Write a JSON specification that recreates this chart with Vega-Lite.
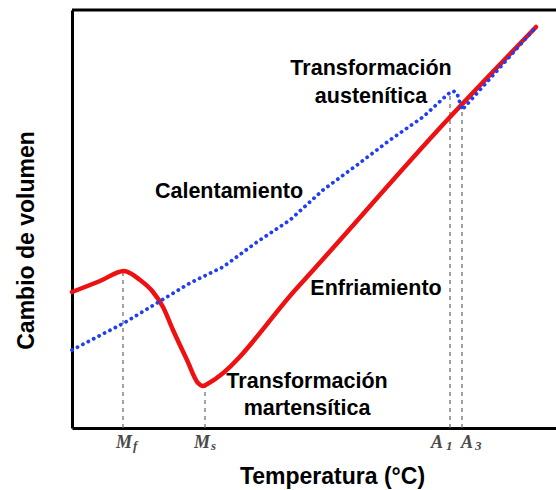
{
  "$schema": "https://vega.github.io/schema/vega-lite/v6.json",
  "width": 484,
  "height": 418,
  "autosize": {"type": "none"},
  "padding": {"left": 72, "top": 10, "right": 0, "bottom": 62},
  "background": "white",
  "config": {
    "view": {"stroke": null},
    "axis": {
      "domainColor": "black",
      "domainWidth": 3,
      "ticks": false,
      "labels": false,
      "grid": false,
      "titleFont": "Liberation Sans",
      "titleFontWeight": "bold",
      "titleFontSize": 23,
      "titleColor": "black"
    },
    "axisX": {"titleX": 260, "titleY": 55, "titleAlign": "center", "titleBaseline": "alphabetic"},
    "axisY": {"titleX": -39, "titleY": 230, "titleAngle": -90, "titleAlign": "center", "titleBaseline": "alphabetic"}
  },
  "datasets": {
    "curves": [
      {"serie": "Enfriamiento", "t": 0, "v": 136},
      {"serie": "Enfriamiento", "t": 28, "v": 147},
      {"serie": "Enfriamiento", "t": 52, "v": 157},
      {"serie": "Enfriamiento", "t": 68, "v": 148},
      {"serie": "Enfriamiento", "t": 81, "v": 136},
      {"serie": "Enfriamiento", "t": 91, "v": 121},
      {"serie": "Enfriamiento", "t": 101, "v": 98},
      {"serie": "Enfriamiento", "t": 115, "v": 68},
      {"serie": "Enfriamiento", "t": 126, "v": 45},
      {"serie": "Enfriamiento", "t": 131, "v": 42},
      {"serie": "Enfriamiento", "t": 137, "v": 45},
      {"serie": "Enfriamiento", "t": 225, "v": 140},
      {"serie": "Enfriamiento", "t": 378, "v": 311},
      {"serie": "Enfriamiento", "t": 464, "v": 401},
      {"serie": "Calentamiento", "t": 0, "v": 78},
      {"serie": "Calentamiento", "t": 52, "v": 105},
      {"serie": "Calentamiento", "t": 118, "v": 145},
      {"serie": "Calentamiento", "t": 151, "v": 161},
      {"serie": "Calentamiento", "t": 185, "v": 186},
      {"serie": "Calentamiento", "t": 218, "v": 208},
      {"serie": "Calentamiento", "t": 251, "v": 238},
      {"serie": "Calentamiento", "t": 285, "v": 263},
      {"serie": "Calentamiento", "t": 318, "v": 288},
      {"serie": "Calentamiento", "t": 351, "v": 311},
      {"serie": "Calentamiento", "t": 376, "v": 334},
      {"serie": "Calentamiento", "t": 381, "v": 337},
      {"serie": "Calentamiento", "t": 385, "v": 335},
      {"serie": "Calentamiento", "t": 390, "v": 318},
      {"serie": "Calentamiento", "t": 464, "v": 401}
    ],
    "dashes": [
      {"punto": "Mf", "t": 51, "v0": 0, "v1": 157},
      {"punto": "Ms", "t": 133, "v0": 0, "v1": 42},
      {"punto": "A1", "t": 378, "v0": 0, "v1": 336},
      {"punto": "A3", "t": 390, "v0": 0, "v1": 318}
    ],
    "letters": [
      {"txt": "M", "t": 44, "v": -20},
      {"txt": "M", "t": 122, "v": -20},
      {"txt": "A", "t": 359, "v": -20},
      {"txt": "A", "t": 389, "v": -20}
    ],
    "subs": [
      {"txt": "f", "t": 61, "v": -22},
      {"txt": "s", "t": 139, "v": -22},
      {"txt": "1", "t": 374, "v": -22},
      {"txt": "3", "t": 403, "v": -22}
    ],
    "notes": [
      {"txt": "Transformación", "t": 299, "v": 353},
      {"txt": "austenítica", "t": 299, "v": 325},
      {"txt": "Calentamiento", "t": 157, "v": 230},
      {"txt": "Enfriamiento", "t": 304, "v": 133},
      {"txt": "Transformación", "t": 235, "v": 40},
      {"txt": "martensítica", "t": 235, "v": 13}
    ],
    "frame": [{"v": 418}]
  },
  "layer": [
    {
      "data": {"name": "frame"},
      "mark": {"type": "rule", "color": "black", "strokeWidth": 3},
      "encoding": {
        "y": {"field": "v", "type": "quantitative", "title": "Cambio de volumen", "scale": {"domain": [0, 418], "nice": false, "zero": false}}
      }
    },
    {
      "data": {"name": "dashes"},
      "mark": {"type": "rule", "color": "#666666", "strokeWidth": 1.2, "strokeDash": [4, 4]},
      "encoding": {
        "x": {"field": "t", "type": "quantitative", "title": "Temperatura (°C)", "scale": {"domain": [0, 484], "nice": false, "zero": false}},
        "y": {"field": "v0", "type": "quantitative", "title": "Cambio de volumen", "scale": {"domain": [0, 418], "nice": false, "zero": false}},
        "y2": {"field": "v1"}
      }
    },
    {
      "data": {"name": "curves"},
      "transform": [{"filter": "datum.serie === 'Enfriamiento'"}],
      "mark": {"type": "line", "color": "#ee1111", "strokeWidth": 4.5, "interpolate": "monotone", "strokeCap": "round"},
      "encoding": {
        "x": {"field": "t", "type": "quantitative", "title": "Temperatura (°C)", "scale": {"domain": [0, 484], "nice": false, "zero": false}},
        "y": {"field": "v", "type": "quantitative", "title": "Cambio de volumen", "scale": {"domain": [0, 418], "nice": false, "zero": false}}
      }
    },
    {
      "data": {"name": "curves"},
      "transform": [{"filter": "datum.serie === 'Calentamiento'"}],
      "mark": {"type": "line", "color": "#1f3ff0", "strokeWidth": 3.8, "strokeCap": "round", "strokeDash": [0.1, 6]},
      "encoding": {
        "x": {"field": "t", "type": "quantitative", "title": "Temperatura (°C)", "scale": {"domain": [0, 484], "nice": false, "zero": false}},
        "y": {"field": "v", "type": "quantitative", "title": "Cambio de volumen", "scale": {"domain": [0, 418], "nice": false, "zero": false}}
      }
    },
    {
      "data": {"name": "letters"},
      "mark": {"type": "text", "font": "Liberation Serif", "fontWeight": "bold", "fontStyle": "italic", "fontSize": 18, "color": "#4a4a4a", "align": "left", "baseline": "alphabetic"},
      "encoding": {
        "x": {"field": "t", "type": "quantitative", "title": "Temperatura (°C)", "scale": {"domain": [0, 484], "nice": false, "zero": false}},
        "y": {"field": "v", "type": "quantitative", "title": "Cambio de volumen", "scale": {"domain": [0, 418], "nice": false, "zero": false}},
        "text": {"field": "txt"}
      }
    },
    {
      "data": {"name": "subs"},
      "mark": {"type": "text", "font": "Liberation Serif", "fontWeight": "bold", "fontStyle": "italic", "fontSize": 13, "color": "#4a4a4a", "align": "left", "baseline": "alphabetic"},
      "encoding": {
        "x": {"field": "t", "type": "quantitative", "title": "Temperatura (°C)", "scale": {"domain": [0, 484], "nice": false, "zero": false}},
        "y": {"field": "v", "type": "quantitative", "title": "Cambio de volumen", "scale": {"domain": [0, 418], "nice": false, "zero": false}},
        "text": {"field": "txt"}
      }
    },
    {
      "data": {"name": "notes"},
      "mark": {"type": "text", "font": "Liberation Sans", "fontWeight": "bold", "fontSize": 21.5, "color": "black", "align": "center", "baseline": "alphabetic"},
      "encoding": {
        "x": {"field": "t", "type": "quantitative", "title": "Temperatura (°C)", "scale": {"domain": [0, 484], "nice": false, "zero": false}},
        "y": {"field": "v", "type": "quantitative", "title": "Cambio de volumen", "scale": {"domain": [0, 418], "nice": false, "zero": false}},
        "text": {"field": "txt"}
      }
    }
  ]
}
